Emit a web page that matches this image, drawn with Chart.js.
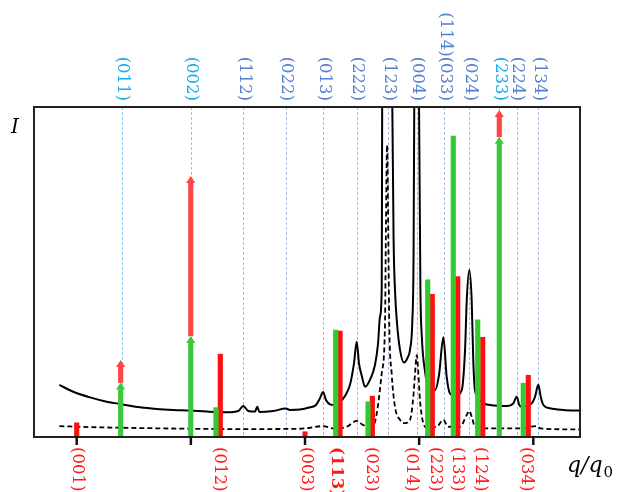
<!DOCTYPE html>
<html>
<head>
<meta charset="utf-8">
<script src="https://cdn.jsdelivr.net/npm/chart.js@4.4.1/dist/chart.umd.min.js"></script>
<style>
  html, body { margin: 0; padding: 0; background: #fff; }
  canvas { display: block; }
</style>
</head>
<body>
<canvas id="chart" width="618" height="492"></canvas>
<script>
// axis ranges (q/q0 and intensity, arbitrary units)
const qRange = [0.626, 5.409];
const iRange = [0, 100];
const tickQ = [1, 2, 3, 4, 5];

// blue indices on top, with their dashed guide lines
const topLabels = ['(011)', '(002)', '(112)', '(022)', '(013)', '(222)', '(123)', '(004)', '(114)(033)', '(024)', '(233)', '(224)', '(134)'];
const topLabelQ = [1.394, 1.999, 2.457, 2.831, 3.160, 3.453, 3.730, 3.978, 4.218, 4.439, 4.700, 4.855, 5.044];
const topLabelLight = [true, true, false, false, false, false, false, false, false, false, true, false, false];

// red indices at the bottom
const bottomLabels = ['(001)', '(012)', '(003)', '(113)', '(023)', '(014)', '(223)', '(133)', '(124)', '(034)'];
const bottomLabelQ = [1.000, 2.238, 3.006, 3.263, 3.574, 3.920, 4.130, 4.327, 4.524, 4.927];
const bottomLabelBold = ['(113)'];

// green / red bars
const greenQ = [2.220, 3.269, 3.552, 4.075, 4.299, 4.513, 4.912];
const greenI = [8.9, 32.4, 10.7, 47.6, 91.2, 35.5, 16.3];
const redQ = [1.000, 2.258, 3.000, 3.307, 3.590, 4.115, 4.338, 4.557, 4.956];
const redI = [4.3, 25.1, 1.6, 32.1, 12.4, 43.2, 48.6, 30.2, 18.7];

// arrows: green up to arrowGreenI, red goes on up to arrowRedI
const arrowQ = [1.385, 1.999, 4.702];
const arrowGreenI = [16.5, 30.6, 91.0];
const arrowRedI = [23.3, 79.1, 99.1];

// measured curve (solid)
const solidQ = [0.848, 0.970, 1.117, 1.263, 1.379, 1.555, 1.701, 1.846, 1.993, 2.139, 2.314, 2.416, 2.459, 2.503, 2.562, 2.582, 2.600, 2.722, 2.831, 2.869,
  2.956, 3.044, 3.096, 3.131, 3.158, 3.184, 3.219, 3.263, 3.307, 3.350, 3.394, 3.429, 3.453, 3.473, 3.499, 3.526, 3.569, 3.613, 3.640, 3.657,
  3.672, 3.676, 3.721, 3.765, 3.776, 3.789, 3.806, 3.832, 3.867, 3.898, 3.920, 3.940, 3.951, 3.957, 3.977, 3.999, 4.011, 4.024, 4.051, 4.078,
  4.139, 4.174, 4.212, 4.241, 4.270, 4.314, 4.373, 4.402, 4.417, 4.439, 4.460, 4.474, 4.489, 4.533, 4.562, 4.621, 4.767, 4.825, 4.855, 4.877,
  4.898, 4.986, 5.015, 5.044, 5.065, 5.088, 5.146, 5.263, 5.409];
const solidI = [15.8, 13.7, 12.0, 10.7, 10.0, 9.0, 8.5, 8.2, 8.0, 7.7, 7.5, 7.9, 9.4, 7.9, 7.7, 9.2, 7.6, 7.9, 8.6, 8.2,
  8.3, 9.0, 9.7, 11.7, 13.6, 11.2, 9.9, 9.7, 10.6, 12.4, 15.8, 22.3, 28.9, 22.3, 18.3, 15.2, 17.3, 21.8, 28.4, 36.5,
  44.5, 100, 420, 100, 60.0, 44.0, 34.5, 26.5, 22.6, 24.0, 26.5, 35.0, 55.0, 100, 350, 100, 45.0, 30.0, 20.0, 15.5,
  14.2, 18.8, 30.2, 18.3, 13.2, 12.4, 14.2, 26.4, 41.5, 50.6, 41.5, 23.3, 14.2, 11.2, 10.2, 9.7, 9.4, 10.2, 12.2, 9.7,
  9.2, 10.2, 12.2, 15.8, 12.2, 9.7, 8.7, 8.2, 8.0];

// simulated curve (dashed)
const dashQ = [0.848, 1.117, 1.408, 1.993, 2.431, 2.956, 3.044, 3.158, 3.248, 3.365, 3.453, 3.511, 3.584, 3.613, 3.642, 3.672, 3.701, 3.708, 3.719, 3.730,
  3.738, 3.759, 3.788, 3.832, 3.876, 3.920, 3.949, 3.964, 3.979, 3.993, 4.007, 4.036, 4.066, 4.154, 4.212, 4.255, 4.358, 4.417, 4.439, 4.460,
  4.489, 4.592, 4.884, 5.030, 5.059, 5.409];
const dashI = [3.3, 3.0, 2.8, 2.5, 2.4, 2.5, 2.8, 3.3, 2.6, 3.1, 4.9, 3.6, 3.3, 4.6, 10.2, 19.3, 34.5, 60.0, 88.5, 60.0,
  34.5, 19.3, 9.2, 5.2, 4.2, 5.2, 12.2, 19.3, 24.8, 19.3, 11.2, 4.2, 2.9, 3.1, 5.2, 3.1, 3.1, 6.7, 7.9, 6.2,
  3.1, 2.6, 2.6, 3.3, 2.6, 2.3];

const headI = 2.1; // arrowhead length in intensity units
const serif = '"DejaVu Serif"';

const pts = (qs, is) => qs.map((q, i) => ({ x: q, y: is[i] }));

const barSet = (label, data, color) => ({
    type: 'bar',
    label: label,
    data: data,
    backgroundColor: color,
    borderWidth: 0,
    barThickness: 4.5,
    grouped: false
});

const lineSet = (label, data, dash, width) => ({
    type: 'line',
    label: label,
    data: data,
    borderColor: '#000',
    borderWidth: width,
    borderDash: dash,
    pointRadius: 0,
    fill: false,
    cubicInterpolationMode: 'monotone'
});

const overlay = {
    id: 'overlay',
    beforeDatasetsDraw(chart) {
        const { ctx, chartArea: a, scales: { x } } = chart;
        ctx.save();
        ctx.lineWidth = 1;
        ctx.setLineDash([3, 2]);
        topLabelQ.forEach((q, i) => {
            const px = Math.round(x.getPixelForValue(q)) + 0.5;
            ctx.strokeStyle = topLabelLight[i] ? '#7dcdf3' : '#a4bbe6';
            ctx.beginPath();
            ctx.moveTo(px, a.top);
            ctx.lineTo(px, a.bottom);
            ctx.stroke();
        });
        ctx.restore();
    },
    afterDatasetsDraw(chart) {
        const { ctx, chartArea: a, scales: { x, y } } = chart;
        ctx.save();

        // arrowheads
        const tri = (q, val, color) => {
            const px = x.getPixelForValue(q);
            const py = y.getPixelForValue(val);
            const h = y.getPixelForValue(val - headI) - py;
            ctx.fillStyle = color;
            ctx.beginPath();
            ctx.moveTo(px, py);
            ctx.lineTo(px + 4.6, py + h);
            ctx.lineTo(px - 4.6, py + h);
            ctx.closePath();
            ctx.fill();
        };
        arrowQ.forEach((q, i) => {
            tri(q, arrowRedI[i], '#ff4646');
            tri(q, arrowGreenI[i], '#3cc83c');
        });

        // frame
        ctx.strokeStyle = '#222';
        ctx.lineWidth = 2;
        ctx.strokeRect(a.left, a.top, a.right - a.left, a.bottom - a.top);

        // ticks below the frame
        ctx.lineWidth = 2.5;
        ctx.strokeStyle = '#111';
        tickQ.forEach(q => {
            const px = x.getPixelForValue(q);
            ctx.beginPath();
            ctx.moveTo(px, a.bottom - 1);
            ctx.lineTo(px, a.bottom + 8);
            ctx.stroke();
        });

        // top labels
        ctx.font = '16.5px ' + serif;
        ctx.textBaseline = 'middle';
        topLabels.forEach((t, i) => {
            ctx.save();
            ctx.translate(x.getPixelForValue(topLabelQ[i]) + 1, a.top - 6);
            ctx.rotate(Math.PI / 2);
            ctx.textAlign = 'right';
            ctx.fillStyle = topLabelLight[i] ? '#19acee' : '#5580d0';
            ctx.fillText(t, 0, 0);
            ctx.restore();
        });

        // bottom labels
        bottomLabels.forEach((t, i) => {
            ctx.save();
            ctx.translate(x.getPixelForValue(bottomLabelQ[i]) + 1, a.bottom + 10);
            ctx.rotate(Math.PI / 2);
            ctx.textAlign = 'left';
            ctx.font = (bottomLabelBold.includes(t) ? 'bold ' : '') + '16.5px ' + serif;
            ctx.fillStyle = '#ff1a1a';
            ctx.fillText(t, 0, 0);
            ctx.restore();
        });

        // axis titles
        ctx.fillStyle = '#000';
        ctx.textAlign = 'center';
        ctx.font = 'italic 20px ' + serif;
        ctx.fillText('I', 15, 128);
        ctx.textAlign = 'left';
        ctx.textBaseline = 'alphabetic';
        ctx.font = 'italic 22px ' + serif;
        ctx.fillText('q/q', 567, 472);
        const w = ctx.measureText('q/q').width;
        ctx.font = '15px ' + serif;
        ctx.fillText('0', 567 + w + 1, 477);

        ctx.restore();
    }
};

new Chart(document.getElementById('chart'), {
    type: 'line',
    data: {
        datasets: [
            barSet('green arrows', arrowQ.map((q, i) => ({ x: q, y: [0, arrowGreenI[i] - headI] })), '#3cc83c'),
            barSet('red arrows', arrowQ.map((q, i) => ({ x: q, y: [arrowGreenI[i], arrowRedI[i] - headI] })), '#ff4646'),
            barSet('green', pts(greenQ, greenI), '#2fcb2f'),
            barSet('red', pts(redQ, redI), '#ff1010'),
            lineSet('measured', pts(solidQ, solidI), [], 2),
            lineSet('model', pts(dashQ, dashI), [5, 3], 1.8)
        ]
    },
    options: {
        responsive: false,
        animation: false,
        events: [],
        layout: { padding: { left: 34, top: 107, right: 38, bottom: 55 } },
        plugins: { legend: { display: false }, tooltip: { enabled: false } },
        scales: {
            x: { type: 'linear', min: qRange[0], max: qRange[1], offset: false, display: false },
            y: { type: 'linear', min: iRange[0], max: iRange[1], display: false }
        }
    },
    plugins: [overlay]
});
</script>
</body>
</html>
